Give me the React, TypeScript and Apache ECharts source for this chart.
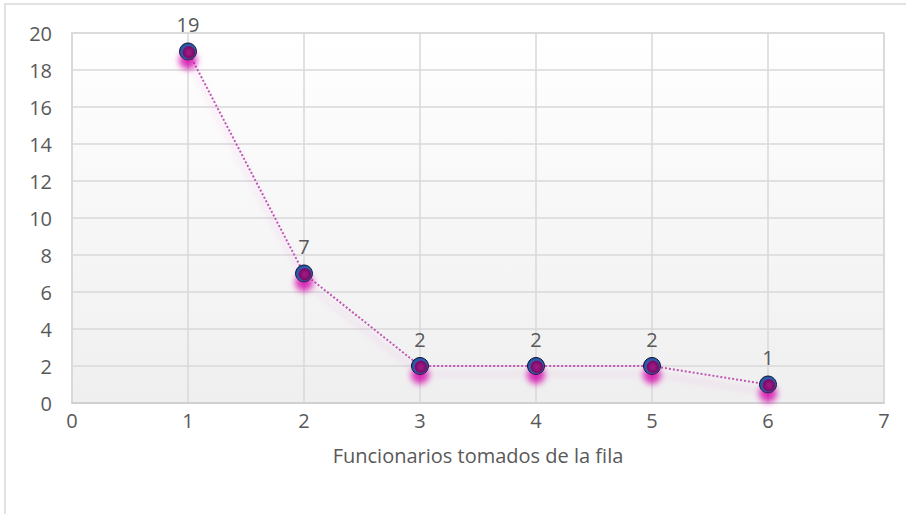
import React, { useEffect, useRef } from "react";
import * as echarts from "echarts";

const xValues = [1, 2, 3, 4, 5, 6];
const yValues = [19, 7, 2, 2, 2, 1];
const xAxisName = "Funcionarios tomados de la fila";

export default function App() {
  const ref = useRef<HTMLDivElement>(null);
  useEffect(() => {
    const chart = echarts.init(ref.current!, null, { renderer: "svg" });
    const labelColor = "#595959";
    const font = "'Open Sans', 'Noto Sans', sans-serif";
    chart.setOption({
      animation: false,
      backgroundColor: "#ffffff",
      graphic: [
        {
          type: "rect",
          shape: { x: 5, y: 4, width: 940, height: 540 },
          style: { fill: "none", stroke: "#d9d9d9", lineWidth: 1.5 },
          silent: true,
          z: -10,
        },
      ],
      grid: {
        left: 72,
        right: 22,
        top: 33,
        bottom: 111,
        show: true,
        borderColor: "#d9d9d9",
        borderWidth: 1.5,
        backgroundColor: new echarts.graphic.LinearGradient(0, 0, 0, 1, [
          { offset: 0, color: "#ffffff" },
          { offset: 1, color: "#efefef" },
        ]),
      },
      xAxis: {
        type: "value",
        min: 0,
        max: 7,
        interval: 1,
        name: xAxisName,
        nameLocation: "middle",
        nameGap: 42,
        nameTextStyle: { color: labelColor, fontSize: 20, fontFamily: font },
        axisLine: { show: true, lineStyle: { color: "#d0d0d0", width: 2 } },
        axisTick: { show: false },
        axisLabel: { color: labelColor, fontSize: 20, fontFamily: font, margin: 7 },
        splitLine: { show: true, lineStyle: { color: "#d9d9d9", width: 1.5 } },
      },
      yAxis: {
        type: "value",
        min: 0,
        max: 20,
        interval: 2,
        axisLine: { show: true, lineStyle: { color: "#d9d9d9", width: 1.5 } },
        axisTick: { show: false },
        axisLabel: { color: labelColor, fontSize: 20, fontFamily: font, margin: 20 },
        splitLine: { show: true, lineStyle: { color: "#d9d9d9", width: 1.5 } },
      },
      series: [
        {
          type: "line",
          data: xValues.map((x, i) => [x, yValues[i]]),
          symbol: "circle",
          symbolSize: 17,
          lineStyle: {
            color: "#c257b5",
            width: 2,
            type: [2, 2],
            shadowColor: "rgba(200,60,180,0.3)",
            shadowBlur: 6,
            shadowOffsetY: 8,
          },
          itemStyle: {
            color: new echarts.graphic.RadialGradient(0.55, 0.55, 0.6, [
              { offset: 0, color: "#a8168a" },
              { offset: 0.55, color: "#7a0f68" },
              { offset: 0.68, color: "#2d60b0" },
              { offset: 0.88, color: "#24509a" },
              { offset: 1, color: "#0e1f45" },
            ]),
            borderColor: "#0b1838",
            borderWidth: 1,
            shadowColor: "rgba(210,0,170,0.8)",
            shadowBlur: 6,
            shadowOffsetY: 9,
          },
          label: {
            show: true,
            position: "top",
            distance: 8,
            color: labelColor,
            fontSize: 20,
            fontFamily: font,
          },
          z: 5,
        },
      ],
    });
    return () => chart.dispose();
  }, []);
  return (
    <div
      ref={ref}
      style={{ position: "fixed", left: 0, top: 0, width: 906, height: 514 }}
    />
  );
}
